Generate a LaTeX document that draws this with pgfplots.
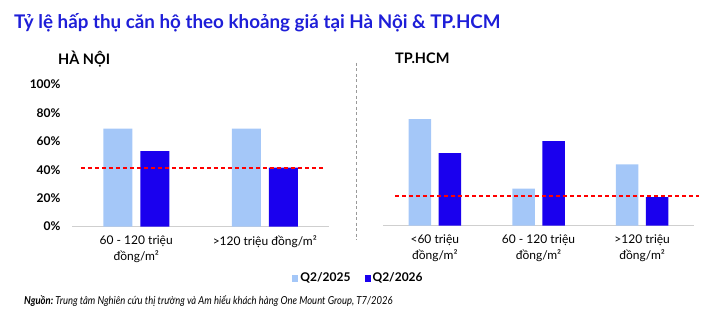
\documentclass[border=0pt]{standalone}
\usepackage{fontspec}
\setmainfont{Lato}
\newfontfamily\narrowfont{Lato}[FakeStretch=0.86]
\usepackage{pgfplots}
\pgfplotsset{compat=1.18}
\definecolor{lightb}{HTML}{A4C7F8}
\definecolor{darkb}{HTML}{1A00EE}
\definecolor{titleb}{HTML}{1E1ED8}
\definecolor{axgray}{HTML}{CFCFCF}
\pgfplotsset{
  common/.style={
    scale only axis, height=142pt, ymin=0, ymax=100,
    clip=false,
    axis x line*=bottom,
    x axis line style={axgray,-},
    xtick style={draw=none},
    major tick length=0pt,
    extra x tick style={major tick length=5pt, xtick align=outside, tick style={axgray, draw=axgray}},
    extra x tick labels={},
    xticklabel style={align=center, font=\fontsize{12}{16}\selectfont, yshift=-6pt},
    /pgf/number format/assume math mode=true,
  },
  sqleg/.style={area legend, legend image code/.code={\fill[##1,draw=none] (0pt,-3.5pt) rectangle (6pt,3.5pt);}},
}
\begin{document}
\begin{tikzpicture}
\useasboundingbox (0pt,0pt) rectangle (712pt,-326pt);
% Left: Ha Noi
\begin{axis}[common,
  at={(72pt,-226.5pt)}, anchor=south west, width=257pt,
  xmin=-0.5, xmax=1.5,
  axis y line*=left, y axis line style={draw=none}, ytick style={draw=none},
  ytick={0,20,40,60,80,100},
  yticklabel={\pgfmathprintnumber{\tick}\%},
  yticklabel style={font=\bfseries\fontsize{12}{14}\selectfont, xshift=-8pt},
  xtick={0,1},
  xticklabels={{60 - 120 triệu\\đồng/m²},{>120 triệu đồng/m²}},
  extra x ticks={-0.5,0.5,1.5},
  legend columns=2,
  legend style={at={(1.115,-0.3627)}, anchor=center, draw=none, fill=none,
    font=\bfseries\fontsize{12}{14}\selectfont,
    /tikz/every even column/.append style={column sep=12pt}},
]
\addplot[ybar, bar width=29pt, bar shift=-18.5pt, fill=lightb, draw=none, sqleg] coordinates {(0,69) (1,69)};
\addlegendentry{Q2/2025}
\addplot[ybar, bar width=29pt, bar shift=18.5pt, fill=darkb, draw=none, sqleg] coordinates {(0,53) (1,41.5)};
\addlegendentry{Q2/2026}
\addplot[draw=red, line width=2pt, dash pattern=on 4pt off 3pt, forget plot] coordinates {(-0.43,41.5) (1.46,41.5)};
\end{axis}
% Right: TP.HCM
\begin{axis}[common,
  at={(383pt,-225.5pt)}, anchor=south west, width=311pt,
  xmin=-0.5, xmax=2.5,
  axis y line=none, ytick=\empty,
  xtick={0,1,2},
  xticklabels={{<60 triệu\\đồng/m²},{60 - 120 triệu\\đồng/m²},{>120 triệu\\đồng/m²}},
  extra x ticks={-0.5,0.5,1.5,2.5},
]
\addplot[ybar, bar width=22.5pt, bar shift=-15pt, fill=lightb, draw=none] coordinates {(0,75) (1,26) (2,43)};
\addplot[ybar, bar width=22.5pt, bar shift=15pt, fill=darkb, draw=none] coordinates {(0,51) (1,59.5) (2,20)};
\addplot[draw=red, line width=2pt, dash pattern=on 4pt off 3pt] coordinates {(-0.384,21) (2.55,21)};
\end{axis}
% separator
\draw[gray!80, line width=0.8pt, dash pattern=on 3pt off 2.5pt] (356pt,-63pt) -- (356pt,-240pt);
% titles
\node[anchor=base west, inner sep=0pt, text=titleb, font=\bfseries\fontsize{18.8}{20}\selectfont] at (14pt,-29pt) {Tỷ lệ hấp thụ căn hộ theo khoảng giá tại Hà Nội \& TP.HCM};
\node[anchor=base west, inner sep=0pt, font=\bfseries\fontsize{14.5}{16}\selectfont] at (58pt,-65pt) {HÀ NỘI};
\node[anchor=base west, inner sep=0pt, font=\bfseries\fontsize{14.5}{16}\selectfont] at (395pt,-64pt) {TP.HCM};
\node[anchor=base west, inner sep=0pt, font=\narrowfont\itshape\fontsize{11}{13}\selectfont] at (24pt,-304pt) {\bfseries Nguồn:\mdseries\ Trung tâm Nghiên cứu thị trường và Am hiểu khách hàng One Mount Group, T7/2026};
\end{tikzpicture}
\end{document}
